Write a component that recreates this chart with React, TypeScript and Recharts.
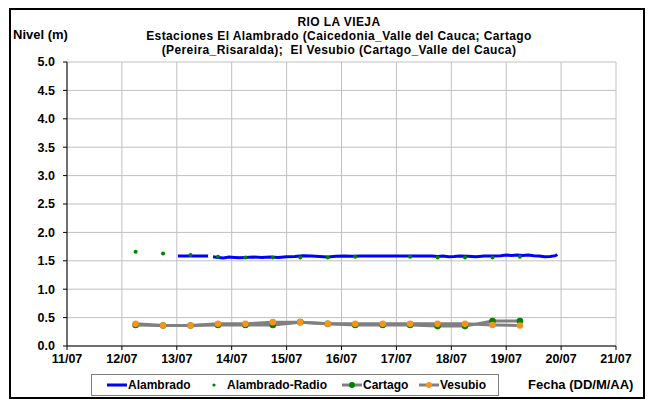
import { CartesianGrid, Line, LineChart, XAxis, YAxis } from "recharts";

// days counted from 11/07 00:00
const diasTicks = [0, 1, 2, 3, 4, 5, 6, 7, 8, 9, 10];
const nivelTicks = [0, 0.5, 1, 1.5, 2, 2.5, 3, 3.5, 4, 4.5, 5];

const alambradoDias = [
  2.02, 2.1, 2.2, 2.3, 2.4, 2.5, 2.57, 2.61, 2.66, 2.75, 2.85, 2.95, 3.05, 3.15,
  3.25, 3.4, 3.55, 3.7, 3.85, 4.0, 4.15, 4.3, 4.45, 4.6, 4.75, 4.9, 5.05, 5.2,
  5.35, 5.5, 5.7, 5.9, 6.1, 6.3, 6.5, 6.65, 6.75, 6.85, 6.95, 7.05, 7.15, 7.3,
  7.45, 7.6, 7.75, 7.9, 8.0, 8.1, 8.2, 8.3, 8.4, 8.5, 8.6, 8.7, 8.8, 8.9, 8.93,
];
const alambradoNivel = [
  1.585, 1.585, 1.585, 1.585, 1.585, 1.585, 1.585, null, 1.57, 1.56, 1.55, 1.565,
  1.56, 1.555, 1.56, 1.565, 1.56, 1.565, 1.56, 1.57, 1.575, 1.59, 1.585, 1.575,
  1.565, 1.58, 1.585, 1.58, 1.585, 1.585, 1.585, 1.585, 1.585, 1.585, 1.585,
  1.585, 1.575, 1.585, 1.57, 1.575, 1.585, 1.58, 1.57, 1.585, 1.585, 1.59, 1.6,
  1.595, 1.6, 1.595, 1.6, 1.59, 1.585, 1.57, 1.575, 1.59, 1.61,
];

const radioDias = [1.25, 1.75, 2.25, 2.75, 3.25, 3.75, 4.25, 4.75, 5.25, 6.25, 6.75, 7.25, 7.75, 8.25];
const radioNivel = [1.66, 1.63, 1.6, 1.57, 1.56, 1.56, 1.56, 1.56, 1.57, 1.57, 1.56, 1.56, 1.56, 1.57];

const estacionDias = [1.25, 1.75, 2.25, 2.75, 3.25, 3.75, 4.25, 4.75, 5.25, 5.75, 6.25, 6.75, 7.25, 7.75, 8.25];
const cartagoNivel = [0.37, 0.36, 0.36, 0.37, 0.37, 0.37, 0.42, 0.39, 0.37, 0.37, 0.37, 0.35, 0.35, 0.44, 0.44];
const vesubioNivel = [0.39, 0.36, 0.36, 0.39, 0.39, 0.42, 0.42, 0.39, 0.39, 0.39, 0.39, 0.39, 0.39, 0.37, 0.36];

const alambrado = alambradoDias.map((d, i) => ({ dia: d, nivel: alambradoNivel[i] }));
const radio = radioDias.map((d, i) => ({ dia: d, nivel: radioNivel[i] }));
const cartago = estacionDias.map((d, i) => ({ dia: d, nivel: cartagoNivel[i] }));
const vesubio = estacionDias.map((d, i) => ({ dia: d, nivel: vesubioNivel[i] }));

const FONT = '"Liberation Sans", Arial, sans-serif';
const tickStyle = { fontSize: 12.5, fontWeight: 700, fill: "#000", fontFamily: FONT };

const fechaLabel = (d: number) => `${11 + d}/07`;

function LegendItem({ x, line, dot, label }: { x: number; line?: string; dot?: string; label: string }) {
  return (
    <span style={{ position: "absolute", left: x, top: 0, height: 20, display: "flex", alignItems: "center" }}>
      <svg width={20} height={10}>
        {line && <line x1={0} y1={5} x2={20} y2={5} stroke={line} strokeWidth={3} />}
        {dot && <circle cx={10} cy={5} r={line ? 3 : 1.6} fill={dot} />}
      </svg>
      <span style={{ marginLeft: line ? 1 : 3 }}>{label}</span>
    </span>
  );
}

export default function App() {
  return (
    <div style={{ position: "absolute", left: 0, top: 0, width: 650, height: 400, fontFamily: FONT, background: "#fff" }}>
      <div
        style={{
          position: "absolute",
          left: 9,
          top: 8,
          width: 632,
          height: 387,
          border: "2px solid #000",
        }}
      />
      <div
        style={{
          position: "absolute",
          left: 89,
          top: 15,
          width: 500,
          textAlign: "center",
          fontSize: 12,
          letterSpacing: 0.4,
          fontWeight: 700,
          lineHeight: "14px",
        }}
      >
        <div>RIO LA VIEJA</div>
        <div>Estaciones El Alambrado (Caicedonia_Valle del Cauca; Cartago</div>
        <div>(Pereira_Risaralda);&nbsp; El Vesubio (Cartago_Valle del Cauca)</div>
      </div>
      <div style={{ position: "absolute", left: 13, top: 27, fontSize: 13, fontWeight: 700 }}>Nivel (m)</div>

      <div style={{ position: "absolute", left: 0, top: 0 }}>
        <LineChart width={650} height={400} margin={{ top: 62, right: 34, bottom: 24, left: 0 }}>
          <CartesianGrid stroke="#c0c0c0" strokeWidth={1} />
          <XAxis
            type="number"
            dataKey="dia"
            domain={[0, 10]}
            ticks={diasTicks}
            tickFormatter={fechaLabel}
            allowDuplicatedCategory={false}
            height={30}
            stroke="#000"
            tickSize={4}
            tickMargin={4}
            tick={tickStyle}
            interval={0}
          />
          <YAxis
            type="number"
            domain={[0, 5]}
            ticks={nivelTicks}
            tickFormatter={(v: number) => v.toFixed(1)}
            width={67}
            stroke="#000"
            tickSize={4}
            tickMargin={8}
            tick={tickStyle}
            interval={0}
          />
          <Line
            data={alambrado}
            dataKey="nivel"
            name="Alambrado"
            stroke="#0000ff"
            strokeWidth={3}
            dot={false}
            type="linear"
            isAnimationActive={false}
          />
          <Line
            data={radio}
            dataKey="nivel"
            name="Alambrado-Radio"
            stroke="none"
            dot={{ r: 2, fill: "#008000", stroke: "none" }}
            isAnimationActive={false}
          />
          <Line
            data={cartago}
            dataKey="nivel"
            name="Cartago"
            stroke="#808080"
            strokeWidth={3}
            dot={{ r: 3.3, fill: "#008000", stroke: "none" }}
            isAnimationActive={false}
          />
          <Line
            data={vesubio}
            dataKey="nivel"
            name="Vesubio"
            stroke="#808080"
            strokeWidth={3}
            dot={{ r: 3.3, fill: "#f7941d", stroke: "none" }}
            isAnimationActive={false}
          />
        </LineChart>
      </div>

      <div
        style={{
          position: "absolute",
          left: 91,
          top: 374,
          width: 406,
          height: 20,
          border: "1px solid #808080",
          fontSize: 12,
          fontWeight: 700,
          whiteSpace: "nowrap",
        }}
      >
        <LegendItem x={15} line="#0000ff" label="Alambrado" />
        <LegendItem x={112} dot="#008000" label="Alambrado-Radio" />
        <LegendItem x={250} line="#808080" dot="#008000" label="Cartago" />
        <LegendItem x={327} line="#808080" dot="#f7941d" label="Vesubio" />
      </div>
      <div style={{ position: "absolute", left: 528, top: 377, fontSize: 13, fontWeight: 700 }}>Fecha (DD/M/AA)</div>
    </div>
  );
}
